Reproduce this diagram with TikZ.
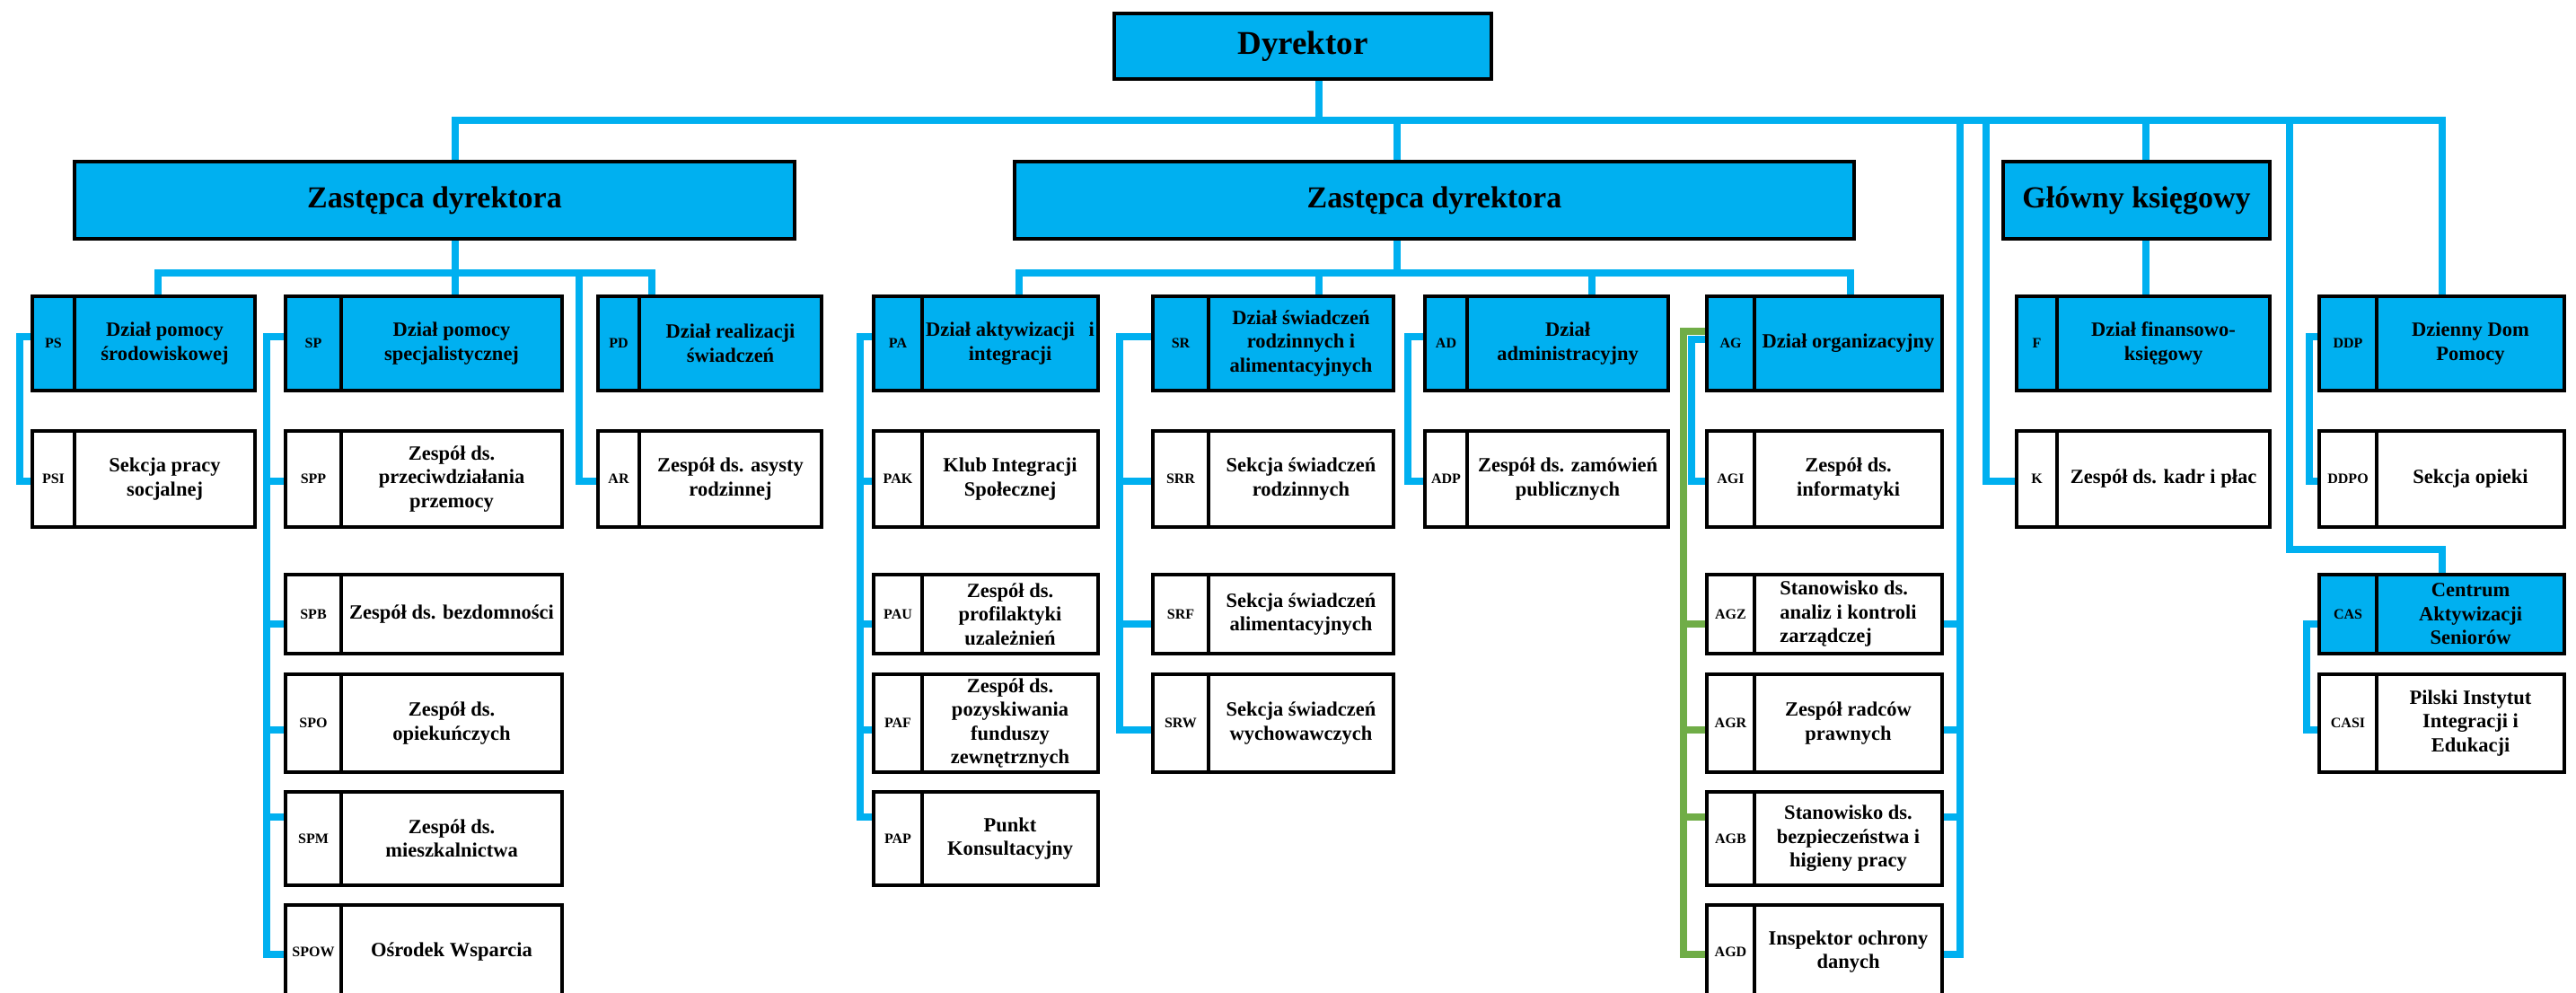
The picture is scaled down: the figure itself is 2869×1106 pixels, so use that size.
\documentclass[tikz,border=0pt]{standalone}
\usepackage{fontspec}
\setmainfont{Liberation Serif}
\definecolor{cblue}{HTML}{00B0F0}
\definecolor{cgreen}{HTML}{70AD47}
\pgfdeclarelayer{bg}
\pgfsetlayers{bg,main}
% #1 name, #2 options, #3 x-left, #4 x-divider, #5 x-right, #6 y-top, #7 y-bottom, #8 code, #9 text
\newcommand\orgbox[9]{%
  \node[codecell, #2, minimum width={(#4-#3)*0.5pt}, minimum height={(#7-#6)*0.5pt}]
    (#1-c) at ({(#3+#4)/2},{(#6+#7)/2}) {#8};
  \node[namecell, #2, minimum width={(#5-#4)*0.5pt}, minimum height={(#7-#6)*0.5pt}]
    (#1) at ({(#4+#5)/2},{(#6+#7)/2}) {#9};
}
% #1 name, #2 options, #3 x-left, #4 x-right, #5 y-top, #6 y-bottom, #7 text
\newcommand\headbox[7]{%
  \node[topbox, #2, minimum width={(#4-#3)*0.5pt}, minimum height={(#6-#5)*0.5pt}]
    (#1) at ({(#3+#4)/2},{(#5+#6)/2}) {#7};
}
\begin{document}
\begin{tikzpicture}[x=0.5pt,y=-0.5pt,
  conn/.style={draw=cblue, line width=4.3pt},
  gconn/.style={draw=cgreen, line width=4.3pt},
  cell/.style={draw=black, line width=1.6pt, inner sep=0pt, outer sep=0pt, rectangle},
  codecell/.style={cell, font=\bfseries\fontsize{8}{9.5}\selectfont},
  namecell/.style={cell, align=center, font=\bfseries\fontsize{11.25}{13.25}\selectfont},
  topbox/.style={cell, fill=cblue, font=\bfseries\fontsize{17}{20}\selectfont}]
\useasboundingbox (0,0) rectangle (2869,1106);

% reference coordinates
\coordinate (bus) at (0,134);
\coordinate (sb) at (0,304);
\coordinate (r1) at (0,375);
\coordinate (r2) at (0,536);
\coordinate (r3) at (0,695);
\coordinate (r4) at (0,813);
\coordinate (r5) at (0,910);
\coordinate (r6) at (0,1063);
\coordinate (agG) at (0,369);
\coordinate (agB) at (0,378);
\coordinate (ycas) at (0,612);
\coordinate (xdyr) at (1469,0);
\coordinate (xz1) at (507,0);
\coordinate (xz2) at (1556,0);
\coordinate (xag) at (2183,0);
\coordinate (xk) at (2212,0);
\coordinate (xgk) at (2390,0);
\coordinate (xcas) at (2550,0);
\coordinate (xddp) at (2720,0);
\coordinate (xps) at (176,0);
\coordinate (xar) at (645,0);
\coordinate (xpd) at (726,0);
\coordinate (xpa) at (1135,0);
\coordinate (xsr) at (1469,0);
\coordinate (xad) at (1773,0);
\coordinate (xagt) at (2061,0);
\coordinate (lps) at (22,0);
\coordinate (lsp) at (297,0);
\coordinate (lpa) at (958,0);
\coordinate (lsr) at (1247,0);
\coordinate (lad) at (1568,0);
\coordinate (lagg) at (1875,0);
\coordinate (lagb) at (1884,0);
\coordinate (lddp) at (2572,0);
\coordinate (lcas) at (2569,0);

% top boxes
\headbox{dyr}{font=\bfseries\fontsize{18.5}{21}\selectfont}{1241}{1661}{15}{88}{Dyrektor}
\headbox{z1}{}{83}{885}{180}{266}{Zastępca dyrektora}
\headbox{z2}{}{1130}{2065}{180}{266}{Zastępca dyrektora}
\headbox{gk}{}{2231}{2528}{180}{266}{Główny księgowy}

% column A
\orgbox{ps}{fill=cblue}{36}{83}{284}{330}{435}{PS}{Dział pomocy\\środowiskowej}
\orgbox{psi}{fill=white}{36}{83}{284}{480}{587}{PSI}{Sekcja pracy\\socjalnej}
% column B
\orgbox{sp}{fill=cblue}{318}{380}{626}{330}{435}{SP}{Dział pomocy\\specjalistycznej}
\orgbox{spp}{fill=white}{318}{380}{626}{480}{587}{SPP}{Zespół ds.\\przeciwdziałania\\przemocy}
\orgbox{spb}{fill=white}{318}{380}{626}{640}{728}{SPB}{Zespół ds. bezdomności}
\orgbox{spo}{fill=white}{318}{380}{626}{751}{860}{SPO}{Zespół ds.\\opiekuńczych}
\orgbox{spm}{fill=white}{318}{380}{626}{882}{986}{SPM}{Zespół ds.\\mieszkalnictwa}
\orgbox{spow}{fill=white}{318}{380}{626}{1008}{1112}{SPOW}{Ośrodek Wsparcia}
% column C
\orgbox{pd}{fill=cblue}{666}{712}{915}{330}{435}{PD}{Dział realizacji\\świadczeń}
\orgbox{ar}{fill=white}{666}{712}{915}{480}{587}{AR}{Zespół ds. asysty\\rodzinnej}
% column D
\orgbox{pa}{fill=cblue}{973}{1027}{1223}{330}{435}{PA}{Dział aktywizacji\hspace{0.7em}i\\integracji}
\orgbox{pak}{fill=white}{973}{1027}{1223}{480}{587}{PAK}{Klub Integracji\\Społecznej}
\orgbox{pau}{fill=white}{973}{1027}{1223}{640}{728}{PAU}{Zespół ds.\\profilaktyki\\uzależnień}
\orgbox{paf}{fill=white}{973}{1027}{1223}{751}{860}{PAF}{Zespół ds.\\pozyskiwania\\funduszy\\zewnętrznych}
\orgbox{pap}{fill=white}{973}{1027}{1223}{882}{986}{PAP}{Punkt\\Konsultacyjny}
% column E
\orgbox{sr}{fill=cblue}{1284}{1346}{1552}{330}{435}{SR}{Dział świadczeń\\rodzinnych i\\alimentacyjnych}
\orgbox{srr}{fill=white}{1284}{1346}{1552}{480}{587}{SRR}{Sekcja świadczeń\\rodzinnych}
\orgbox{srf}{fill=white}{1284}{1346}{1552}{640}{728}{SRF}{Sekcja świadczeń\\alimentacyjnych}
\orgbox{srw}{fill=white}{1284}{1346}{1552}{751}{860}{SRW}{Sekcja świadczeń\\wychowawczych}
% column F
\orgbox{ad}{fill=cblue}{1587}{1634}{1858}{330}{435}{AD}{Dział\\administracyjny}
\orgbox{adp}{fill=white}{1587}{1634}{1858}{480}{587}{ADP}{Zespół ds. zamówień\\publicznych}
% column G
\orgbox{ag}{fill=cblue}{1901}{1954}{2163}{330}{435}{AG}{Dział organizacyjny}
\orgbox{agi}{fill=white}{1901}{1954}{2163}{480}{587}{AGI}{Zespół ds.\\informatyki}
\orgbox{agz}{fill=white, align=left}{1901}{1954}{2163}{640}{728}{AGZ}{Stanowisko ds.\\analiz i kontroli\\zarządczej}
\orgbox{agr}{fill=white}{1901}{1954}{2163}{751}{860}{AGR}{Zespół radców\\prawnych}
\orgbox{agb}{fill=white}{1901}{1954}{2163}{882}{986}{AGB}{Stanowisko ds.\\bezpieczeństwa i\\higieny pracy}
\orgbox{agd}{fill=white}{1901}{1954}{2163}{1008}{1112}{AGD}{Inspektor ochrony\\danych}
% column H
\orgbox{f}{fill=cblue}{2246}{2291}{2528}{330}{435}{F}{Dział finansowo-\\księgowy}
\orgbox{k}{fill=white}{2246}{2291}{2528}{480}{587}{K}{Zespół ds. kadr i płac}
% column I
\orgbox{ddp}{fill=cblue}{2583}{2647}{2856}{330}{435}{DDP}{Dzienny Dom\\Pomocy}
\orgbox{ddpo}{fill=white}{2583}{2647}{2856}{480}{587}{DDPO}{Sekcja opieki}
\orgbox{cas}{fill=cblue}{2583}{2647}{2856}{640}{728}{CAS}{Centrum\\Aktywizacji\\Seniorów}
\orgbox{casi}{fill=white}{2583}{2647}{2856}{751}{860}{CASI}{Pilski Instytut\\Integracji i\\Edukacji}

\begin{pgfonlayer}{bg}
\fill[white] (0,0) rectangle (2869,1106);
% main bus
\draw[conn] (xz1 |- z1.north) -- (xz1 |- bus) -- (xddp |- bus) -- (xddp |- ddp.north);
\draw[conn] (xdyr |- dyr.south) -- (xdyr |- bus);
\draw[conn] (xz2 |- bus) -- (xz2 |- z2.north);
\draw[conn] (xk |- bus) -- (xk |- r2) -- (k-c.west |- r2);
\draw[conn] (xgk |- bus) -- (xgk |- f.north);
\draw[conn] (xcas |- bus) -- (xcas |- ycas) -- (xddp |- ycas) -- (xddp |- cas.north);
\draw[conn] (xag |- bus) -- (xag |- r6) -- (agd.east |- r6);
\foreach \n/\r in {agz/r3,agr/r4,agb/r5} \draw[conn] (xag |- \r) -- (\n.east |- \r);
% first deputy
\draw[conn] (xz1 |- z1.south) -- (xz1 |- sp.north);
\draw[conn] (xps |- ps.north) -- (xps |- sb) -- (xpd |- sb) -- (xpd |- pd.north);
\draw[conn] (xar |- sb) -- (xar |- r2) -- (ar-c.west |- r2);
\draw[conn] (ps-c.west |- r1) -- (lps |- r1) -- (lps |- r2) -- (psi-c.west |- r2);
\draw[conn] (sp-c.west |- r1) -- (lsp |- r1) -- (lsp |- r6) -- (spow-c.west |- r6);
\foreach \n/\r in {spp/r2,spb/r3,spo/r4,spm/r5} \draw[conn] (lsp |- \r) -- (\n-c.west |- \r);
% second deputy
\draw[conn] (xz2 |- z2.south) -- (xz2 |- sb);
\draw[conn] (xpa |- pa.north) -- (xpa |- sb) -- (xagt |- sb) -- (xagt |- ag.north);
\draw[conn] (xsr |- sb) -- (xsr |- sr.north);
\draw[conn] (xad |- sb) -- (xad |- ad.north);
\draw[conn] (pa-c.west |- r1) -- (lpa |- r1) -- (lpa |- r5) -- (pap-c.west |- r5);
\foreach \n/\r in {pak/r2,pau/r3,paf/r4} \draw[conn] (lpa |- \r) -- (\n-c.west |- \r);
\draw[conn] (sr-c.west |- r1) -- (lsr |- r1) -- (lsr |- r4) -- (srw-c.west |- r4);
\foreach \n/\r in {srr/r2,srf/r3} \draw[conn] (lsr |- \r) -- (\n-c.west |- \r);
\draw[conn] (ad-c.west |- r1) -- (lad |- r1) -- (lad |- r2) -- (adp-c.west |- r2);
\draw[conn] (ag-c.west |- agB) -- (lagb |- agB) -- (lagb |- r2) -- (agi-c.west |- r2);
\draw[gconn] (ag-c.west |- agG) -- (lagg |- agG) -- (lagg |- r6) -- (agd-c.west |- r6);
\foreach \n/\r in {agz/r3,agr/r4,agb/r5} \draw[gconn] (lagg |- \r) -- (\n-c.west |- \r);
% right side
\draw[conn] (ddp-c.west |- r1) -- (lddp |- r1) -- (lddp |- r2) -- (ddpo-c.west |- r2);
\draw[conn] (cas-c.west |- r3) -- (lcas |- r3) -- (lcas |- r4) -- (casi-c.west |- r4);
\end{pgfonlayer}
\end{tikzpicture}
\end{document}
